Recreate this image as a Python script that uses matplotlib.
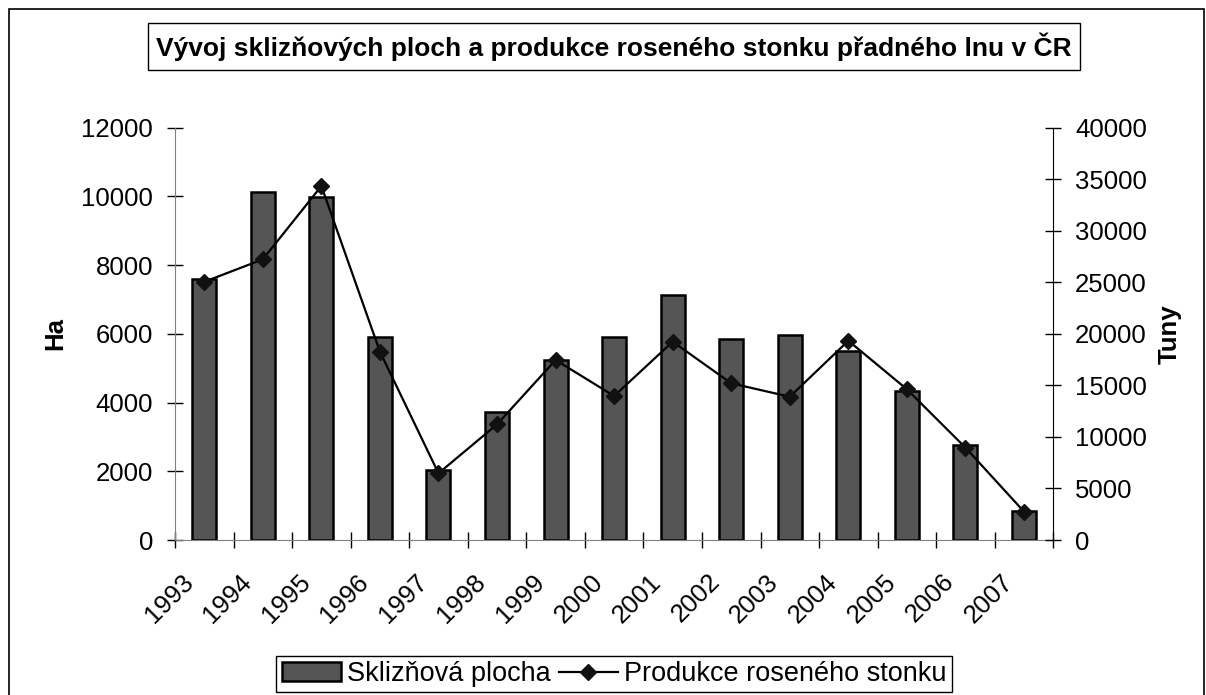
import numpy as np
import matplotlib
matplotlib.use('Agg')
from matplotlib import pyplot as plt
from matplotlib.patches import Rectangle
from matplotlib.transforms import ScaledTranslation

plt.rcParams['font.family'] = ['Liberation Sans', 'DejaVu Sans']

# data
years = ['1993', '1994', '1995', '1996', '1997', '1998', '1999', '2000',
         '2001', '2002', '2003', '2004', '2005', '2006', '2007']
area_ha = [7590, 10130, 9980, 5910, 2040, 3730, 5250, 5910,
           7140, 5840, 5960, 5510, 4330, 2770, 840]
production_t = [25050, 27230, 34340, 18270, 6470, 11220, 17460, 13970,
                19240, 15200, 13900, 19330, 14620, 8960, 2750]

title = 'Vývoj sklizňových ploch a produkce roseného stonku přadného lnu v ČR'
bar_label = 'Sklizňová plocha'
line_label = 'Produkce roseného stonku'

W, H = 1206, 695
fig = plt.figure(figsize=(W / 100, H / 100), dpi=100)

# outer chart frame and boxed title
fig.patches.append(Rectangle((9 / W, -0.05), (1204 - 9) / W, 1 - 9 / H + 0.05,
                             transform=fig.transFigure, fill=False,
                             edgecolor='black', linewidth=1.2))
fig.patches.append(Rectangle((148 / W, 1 - 70 / H), 932 / W, 47 / H,
                             transform=fig.transFigure, fill=False,
                             edgecolor='black', linewidth=1.0))
fig.text(614 / W, 1 - 46.5 / H, title, ha='center', va='center',
         fontsize=19, fontweight='bold')

ax = fig.add_axes([175 / W, 1 - 540 / H, (1053.3 - 175) / W, (540 - 127.7) / H])
x = np.arange(len(years))
bars = ax.bar(x, area_ha, width=0.41, color='#555555', edgecolor='black',
              linewidth=1.8, label=bar_label, zorder=2)
ax.set_xlim(-0.5, len(years) - 0.5)
ax.set_ylim(0, 12000)
ax.set_yticks(np.arange(0, 12001, 2000))

# category boundaries get the tick marks, year labels sit under the centres
ax.set_xticks(np.arange(-0.5, len(years), 1))
ax.set_xticklabels([])
shift = ScaledTranslation(-0.15, -0.38, fig.dpi_scale_trans)
for xi, yr in zip(x, years):
    ax.text(xi, 0, yr, transform=ax.get_xaxis_transform() + shift,
            rotation=45, ha='right', va='center', rotation_mode='anchor',
            fontsize=18.5)
ax.tick_params(axis='x', which='major', direction='inout', length=11.5, width=1)
ax.tick_params(axis='y', direction='inout', length=11.5, width=1, pad=10,
               labelsize=18.5)
ax.spines['top'].set_visible(False)
ax.spines['right'].set_visible(False)
ax.spines['left'].set_color('#808080')
ax.spines['bottom'].set_color('#808080')

ax2 = ax.twinx()
line, = ax2.plot(x, production_t, color='black', linewidth=1.6, marker='D',
                 markersize=8.5, markerfacecolor='#111111',
                 markeredgecolor='#111111', label=line_label, zorder=3)
ax2.set_ylim(0, 40000)
ax2.set_yticks(np.arange(0, 40001, 5000))
ax2.tick_params(axis='y', direction='inout', length=11.5, width=1, pad=10,
                labelsize=18.5)
for s in ['top', 'left', 'bottom']:
    ax2.spines[s].set_visible(False)
ax2.spines['right'].set_color('black')

fig.text(55 / W, 1 - 334 / H, 'Ha', rotation=90, ha='center', va='center',
         fontsize=18.5, fontweight='bold')
fig.text(1170 / W, 1 - 334 / H, 'Tuny', rotation=90, ha='center', va='center',
         fontsize=18.5, fontweight='bold')

leg = fig.legend([bars, line], [bar_label, line_label], loc='center',
                 bbox_to_anchor=(614 / W, 1 - 674 / H), bbox_transform=fig.transFigure,
                 ncol=2, fontsize=19.5, fancybox=False, shadow=False,
                 handlelength=2.2, handletextpad=0.2, columnspacing=0.3,
                 borderpad=0.2, framealpha=1)
leg.get_frame().set_edgecolor('black')
leg.get_frame().set_linewidth(1.0)

fig.savefig('out.png', dpi=100)
